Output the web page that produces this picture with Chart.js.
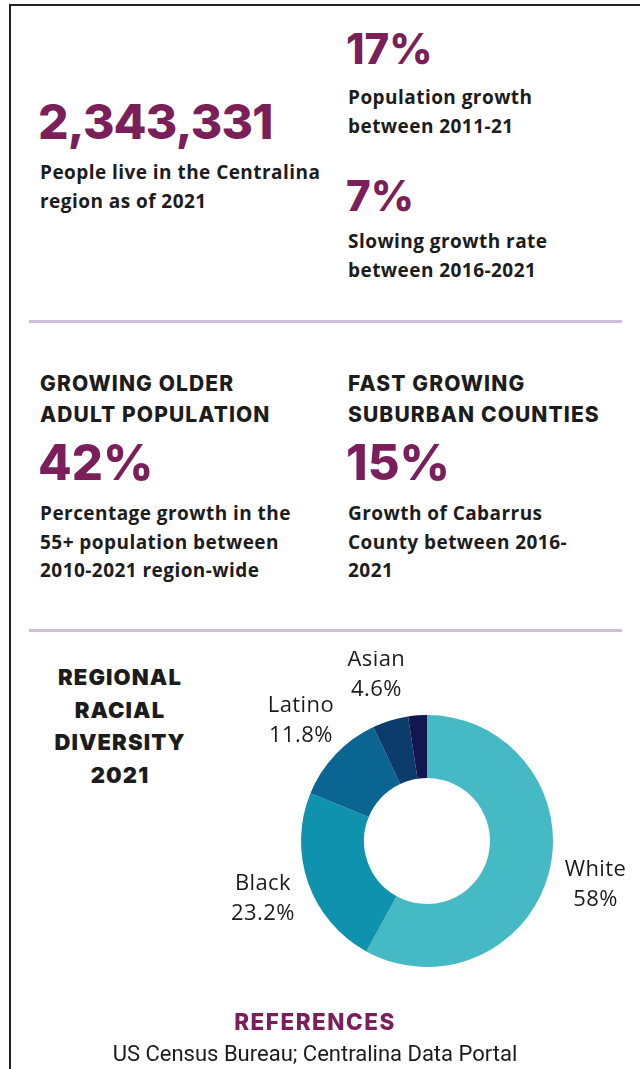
<!DOCTYPE html>
<html>
<head>
<meta charset="utf-8">
<script src="https://cdn.jsdelivr.net/npm/chart.js@4.4.1/dist/chart.umd.min.js"></script>
<style>
    html, body { margin: 0; padding: 0; width: 640px; height: 1069px; overflow: hidden; background: #fff; }
    .frame { position: absolute; left: 9px; top: 4px; width: 700px; height: 1100px; border-top: 2px solid #222; border-left: 2px solid #222; }
    .rule { position: absolute; left: 29px; width: 593px; height: 3px; background: #cfc0de; }
    .t { position: absolute; white-space: nowrap; color: #1c1c1c; }
    .big { font-family: Inter, sans-serif; font-weight: 800; color: #7b1f5a; }
    .body { font-family: "Open Sans", sans-serif; font-weight: 700; font-size: 19px; line-height: 28.5px; letter-spacing: 0.45px; }
    .head { font-family: Inter, sans-serif; font-weight: 800; font-size: 21px; line-height: 31px; letter-spacing: 1.1px; }
    .title { font-family: Inter, sans-serif; font-weight: 900; font-size: 22px; line-height: 32.5px; letter-spacing: 1.1px; text-align: center; width: 200px; left: 20px; }
    #chart-wrap { position: absolute; left: 214px; top: 651px; }
</style>
</head>
<body>
<div class="frame"></div>

<div class="t big" style="left:38px; top:97px; font-size:48px; line-height:50px; letter-spacing:-0.8px;">2,343,331</div>
<div class="t body" style="left:40px; top:158px;">People live in the Centralina<br>region as of 2021</div>

<div class="t big" style="left:346px; top:27px; font-size:42px; line-height:44px;">17%</div>
<div class="t body" style="left:348px; top:83px;">Population growth<br>between 2011-21</div>

<div class="t big" style="left:346px; top:174px; font-size:42px; line-height:44px;">7%</div>
<div class="t body" style="left:348px; top:227px;">Slowing growth rate<br>between 2016-2021</div>

<div class="rule" style="top:320px;"></div>

<div class="t head" style="left:40px; top:368px;">GROWING OLDER<br>ADULT POPULATION</div>
<div class="t big" style="left:38px; top:438px; font-size:49px; line-height:50px;">42%</div>
<div class="t body" style="left:40px; top:499px;">Percentage growth in the<br>55+ population between<br>2010-2021 region-wide</div>

<div class="t head" style="left:348px; top:368px;">FAST GROWING<br>SUBURBAN COUNTIES</div>
<div class="t big" style="left:346px; top:438px; font-size:49px; line-height:50px;">15%</div>
<div class="t body" style="left:348px; top:499px;">Growth of Cabarrus<br>County between 2016-<br>2021</div>

<div class="rule" style="top:629px;"></div>

<div class="t title" style="top:661px;">REGIONAL<br>RACIAL<br>DIVERSITY<br>2021</div>

<div id="chart-wrap"><canvas id="race-chart" width="426" height="380"></canvas></div>

<div class="t" style="left:0; width:630px; text-align:center; top:1008px; font-family:Inter, sans-serif; font-weight:800; font-size:22.5px; line-height:28px; letter-spacing:1.5px; color:#7b1f5a;">REFERENCES</div>
<div class="t" style="left:0; width:630px; text-align:center; top:1040px; font-family:Roboto, sans-serif; font-size:22px; line-height:28px;">US Census Bureau; Centralina Data Portal</div>

<script>
// Regional racial diversity, 2021 (share of population, %)
const raceGroups = ['White', 'Black', 'Latino', 'Asian', 'Other'];
const raceShares = [58, 23.2, 11.8, 4.6, 2.4];
const showLabel = [true, true, true, true, false];
const sliceColors = ['#45bac4', '#0e92ad', '#0b6592', '#0b3c6c', '#131650'];

// Draw "Name / value%" outside each labelled slice
const sliceLabels = {
    id: 'sliceLabels',
    afterDraw(chart) {
        const ctx = chart.ctx;
        const meta = chart.getDatasetMeta(0);
        ctx.save();
        ctx.font = '22px "Open Sans", sans-serif';
        ctx.letterSpacing = '0.4px';
        ctx.fillStyle = '#1c1c1c';
        ctx.textAlign = 'center';
        ctx.textBaseline = 'middle';
        meta.data.forEach((arc, i) => {
            if (!showLabel[i]) return;
            const p = arc.getProps(['startAngle', 'endAngle', 'outerRadius', 'x', 'y'], true);
            const mid = (p.startAngle + p.endAngle) / 2;
            const r = p.outerRadius + 48;
            const x = p.x + Math.cos(mid) * r;
            const y = p.y + Math.sin(mid) * r;
            ctx.fillText(raceGroups[i], x, y - 15);
            ctx.fillText(raceShares[i] + '%', x, y + 15);
        });
        ctx.restore();
    }
};

new Chart(document.getElementById('race-chart').getContext('2d'), {
    type: 'doughnut',
    data: {
        labels: raceGroups,
        datasets: [{
            data: raceShares,
            backgroundColor: sliceColors,
            borderWidth: 0
        }]
    },
    options: {
        responsive: false,
        animation: false,
        cutout: '50%',
        layout: { padding: { top: 64, bottom: 64, left: 87, right: 87 } },
        plugins: {
            legend: { display: false },
            tooltip: { enabled: false }
        }
    },
    plugins: [sliceLabels]
});
</script>
</body>
</html>
